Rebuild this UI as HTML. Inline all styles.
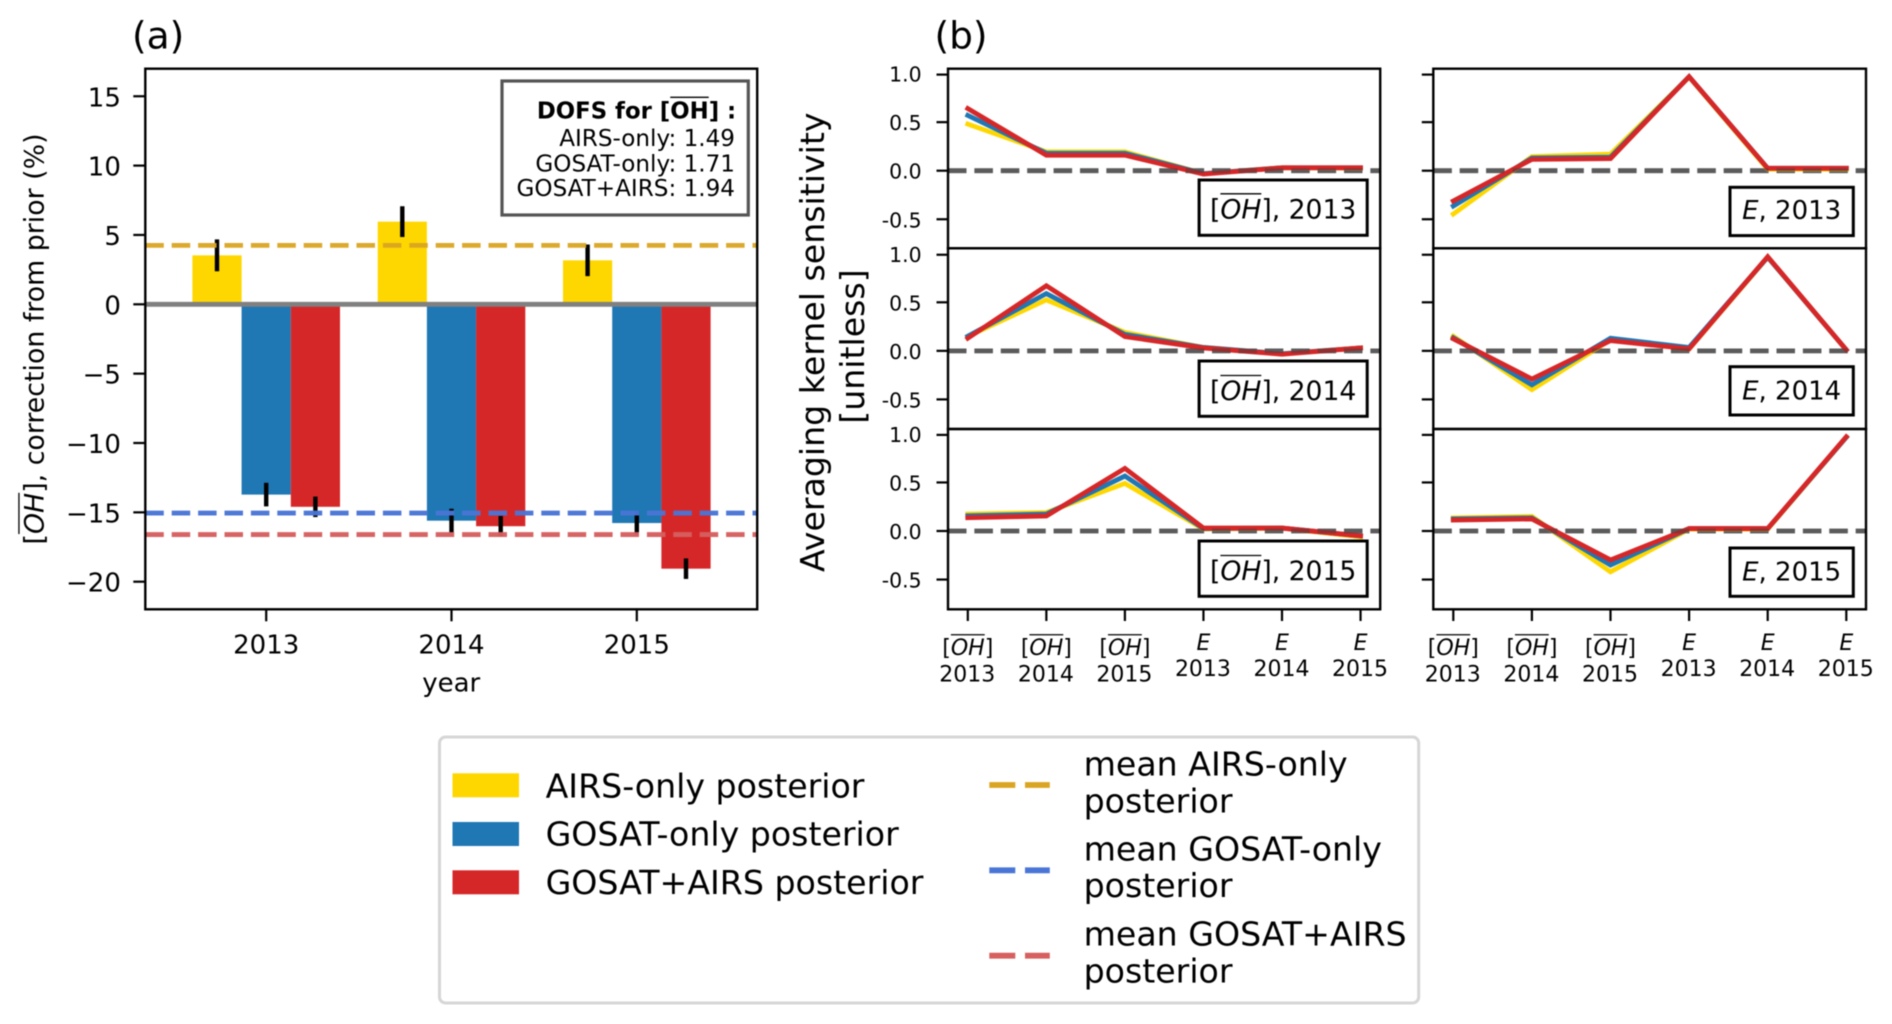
<!DOCTYPE html>
<html lang="en">
<head>
<meta charset="utf-8">
<title>OH correction and averaging kernel sensitivity</title>
<style>
  html, body { margin: 0; padding: 0; background: #fff; }
  #figure { display: block; width: 1892px; height: 1024px; filter: blur(0.6px);
            font-family: "DejaVu Sans", "Liberation Sans", sans-serif; }
  text { fill: #000; }
</style>
</head>
<body>
<svg id="figure" xmlns="http://www.w3.org/2000/svg" width="1892" height="1024" viewBox="0 0 1892 1024">
  <rect x="0" y="0" width="1892" height="1024" fill="#fff"/>

  <text x="132" y="48.5" font-size="37.5">(a)</text>
  <text x="934.5" y="48.5" font-size="37.5">(b)</text>

  <g id="chart-a"></g>
  <g id="chart-b"></g>

  <text x="451.2" y="691.5" font-size="26" text-anchor="middle">year</text>
  <g transform="rotate(-90 813 344)">
    <text x="814.8" y="344" dy="11" font-size="33.2" text-anchor="middle">Averaging kernel sensitivity</text>
    <text x="810.5" y="384" dy="11" font-size="33.2" text-anchor="middle">[unitless]</text>
  </g>

  <g>
    <rect x="502" y="81" width="246.3" height="134" fill="#fff" stroke="#555" stroke-width="3.2"/>
    <text id="dofs-anchor" x="735" y="146" font-size="23.1" text-anchor="end">AIRS-only: 1.49</text>
    <text x="735" y="171.5" font-size="23.1" text-anchor="end">GOSAT-only: 1.71</text>
    <text x="735" y="196" font-size="23.1" text-anchor="end">GOSAT+AIRS: 1.94</text>
  </g>

  <g>
    <rect x="439.5" y="737" width="979.2" height="266" rx="6" ry="6" fill="#fff" stroke="#d6d6d6" stroke-width="3"/>

    <rect x="452.5" y="773.3" width="66.5" height="24" fill="#ffd700"/>
    <text x="545.6" y="797.3" font-size="33.2">AIRS-only posterior</text>
    <rect x="452.5" y="822" width="66.5" height="24" fill="#1f77b4"/>
    <text x="545.6" y="845.6" font-size="33.2">GOSAT-only posterior</text>
    <rect x="452.5" y="870.3" width="66.5" height="24" fill="#d62728"/>
    <text x="545.6" y="893.9" font-size="33.2">GOSAT+AIRS posterior</text>

    <line x1="989.3" x2="1049.8" y1="785" y2="785" stroke="#daa520" stroke-width="5.8" stroke-dasharray="26 9.7"/>
    <text x="1083.6" y="775.6" font-size="33.2">mean AIRS-only</text>
    <text x="1083.6" y="812.3" font-size="33.2">posterior</text>

    <line x1="989.3" x2="1049.8" y1="870.3" y2="870.3" stroke="#4a75d6" stroke-width="5.8" stroke-dasharray="26 9.7"/>
    <text x="1083.6" y="860.6" font-size="33.2">mean GOSAT-only</text>
    <text x="1083.6" y="897" font-size="33.2">posterior</text>

    <line x1="989.3" x2="1049.8" y1="955.7" y2="955.7" stroke="#d65f5f" stroke-width="5.8" stroke-dasharray="26 9.7"/>
    <text x="1083.6" y="945.6" font-size="33.2">mean GOSAT+AIRS</text>
    <text x="1083.6" y="982.3" font-size="33.2">posterior</text>
  </g>
</svg>

<script>
// ---------- Panel (a) data ----------
const years = ['2013', '2014', '2015'];
const airsCorrection = [3.53, 5.96, 3.17];
const gosatCorrection = [-13.72, -15.6, -15.77];
const jointCorrection = [-14.6, -16.0, -19.06];
const airsError = [1.15, 1.11, 1.14];
const gosatError = [0.85, 0.86, 0.85];
const jointError = [0.74, 0.74, 0.74];
const meanAirs = 4.25;
const meanGosat = -15.05;
const meanJoint = -16.6;
const correctionTicks = [15, 10, 5, 0, -5, -10, -15, -20];

// ---------- Panel (b) data: rows are 2013, 2014, 2015 ----------
const kernelCategories = ['OH', 'OH', 'OH', 'E', 'E', 'E'];
const kernelCategoryYears = ['2013', '2014', '2015', '2013', '2014', '2015'];
const kernelTicks = [1.0, 0.5, 0.0, -0.5];
const kernelTickLabels = ['1.0', '0.5', '0.0', '-0.5'];

const ohAirs2013 = [0.48, 0.195, 0.195, -0.03, 0.03, 0.025];
const ohGosat2013 = [0.57, 0.18, 0.18, -0.03, 0.03, 0.03];
const ohJoint2013 = [0.64, 0.16, 0.16, -0.035, 0.03, 0.03];
const ohAirs2014 = [0.15, 0.525, 0.19, 0.035, -0.03, 0.03];
const ohGosat2014 = [0.15, 0.59, 0.17, 0.035, -0.03, 0.03];
const ohJoint2014 = [0.13, 0.67, 0.147, 0.03, -0.035, 0.03];
const ohAirs2015 = [0.175, 0.19, 0.49, 0.02, 0.03, -0.06];
const ohGosat2015 = [0.157, 0.175, 0.566, 0.025, 0.03, -0.05];
const ohJoint2015 = [0.137, 0.155, 0.645, 0.03, 0.03, -0.05];

const eAirs2013 = [-0.446, 0.145, 0.17, 0.965, 0.015, 0.015];
const eGosat2013 = [-0.364, 0.13, 0.14, 0.968, 0.025, 0.025];
const eJoint2013 = [-0.312, 0.117, 0.125, 0.968, 0.025, 0.025];
const eAirs2014 = [0.15, -0.40, 0.115, 0.02, 0.965, 0.01];
const eGosat2014 = [0.135, -0.35, 0.13, 0.035, 0.965, 0.01];
const eJoint2014 = [0.124, -0.29, 0.106, 0.02, 0.97, 0.01];
const eAirs2015 = [0.135, 0.15, -0.42, 0.02, 0.02, 0.965];
const eGosat2015 = [0.125, 0.135, -0.35, 0.025, 0.025, 0.965];
const eJoint2015 = [0.113, 0.124, -0.298, 0.025, 0.025, 0.97];

const ohSeries = [
  [ohAirs2013, ohGosat2013, ohJoint2013],
  [ohAirs2014, ohGosat2014, ohJoint2014],
  [ohAirs2015, ohGosat2015, ohJoint2015]
];
const eSeries = [
  [eAirs2013, eGosat2013, eJoint2013],
  [eAirs2014, eGosat2014, eJoint2014],
  [eAirs2015, eGosat2015, eJoint2015]
];

// ---------- Helpers ----------
const NS = 'http://www.w3.org/2000/svg';
function el(parent, tag, attrs) {
  const node = document.createElementNS(NS, tag);
  for (const k in attrs) node.setAttribute(k, attrs[k]);
  parent.appendChild(node);
  return node;
}
// Text of the form  prefix[OH]suffix  with an overline above the OH characters.
function mathLabel(parent, x, y, fs, anchor, prefix, suffix, bold) {
  const t = el(parent, 'text', { x: x, y: y, 'font-size': fs, 'text-anchor': anchor });
  if (bold) t.setAttribute('font-weight', 'bold');
  t.appendChild(document.createTextNode(prefix + '['));
  const oh = el(t, 'tspan', {});
  if (!bold) oh.setAttribute('font-style', 'italic');
  oh.textContent = 'OH';
  t.appendChild(document.createTextNode(']' + suffix));
  const i = prefix.length + 1;
  const x1 = t.getStartPositionOfChar(i).x;
  const x2 = t.getEndPositionOfChar(i + 1).x;
  const bar = el(parent, 'line', { x1: x1, x2: x2, y1: y - fs * 0.92, y2: y - fs * 0.92, stroke: '#000', 'stroke-width': 1.3 });
  
  
  return t;
}

// ---------- Panel (a) ----------
const chartA = document.getElementById('chart-a');
const A_LEFT = 145.3, A_RIGHT = 757.2, A_TOP = 68.7, A_BOTTOM = 609.3;
const BAR_W = 49.2;
function xA(i) { return 266.2 + 185.3 * i; }
function yA(v) { return 304.3 - 13.87 * v; }

const barGroups = [
  { key: 'airs', values: airsCorrection, errors: airsError, color: '#ffd700', offset: -BAR_W },
  { key: 'gosat', values: gosatCorrection, errors: gosatError, color: '#1f77b4', offset: 0 },
  { key: 'joint', values: jointCorrection, errors: jointError, color: '#d62728', offset: BAR_W }
];

barGroups.forEach(function (group) {
  group.values.forEach(function (v, i) {
    const top = Math.min(yA(v), yA(0));
    const bar = el(chartA, 'rect', {
      x: xA(i) + group.offset - BAR_W / 2, y: top, width: BAR_W,
      height: Math.abs(yA(v) - yA(0)), fill: group.color
    });
    
    
  });
});
barGroups.forEach(function (group) {
  group.values.forEach(function (v, i) {
    const cx = xA(i) + group.offset;
    const err = el(chartA, 'line', {
      x1: cx, x2: cx, y1: yA(v + group.errors[i]), y2: yA(v - group.errors[i]),
      stroke: '#000', 'stroke-width': 4.4
    });
    
    
  });
});

const zeroLineA = el(chartA, 'line', { x1: A_LEFT, x2: A_RIGHT, y1: yA(0), y2: yA(0), stroke: '#808080', 'stroke-width': 4.8 });



const meanAirsLine = el(chartA, 'line', { x1: A_LEFT, x2: A_RIGHT, y1: yA(meanAirs), y2: yA(meanAirs), stroke: '#daa520', 'stroke-width': 4.8, 'stroke-dasharray': '18.5 7.9', opacity: 0.95 });


const meanGosatLine = el(chartA, 'line', { x1: A_LEFT, x2: A_RIGHT, y1: yA(meanGosat), y2: yA(meanGosat), stroke: '#4a75d6', 'stroke-width': 4.8, 'stroke-dasharray': '18.5 7.9', opacity: 0.97 });


const meanJointLine = el(chartA, 'line', { x1: A_LEFT, x2: A_RIGHT, y1: yA(meanJoint), y2: yA(meanJoint), stroke: '#d65f5f', 'stroke-width': 4.8, 'stroke-dasharray': '18.5 7.9', opacity: 0.97 });



const frameA = el(chartA, 'rect', { x: A_LEFT, y: A_TOP, width: A_RIGHT - A_LEFT, height: A_BOTTOM - A_TOP, fill: 'none', stroke: '#000', 'stroke-width': 2.4 });



correctionTicks.forEach(function (v) {
  const tick = el(chartA, 'line', { x1: A_LEFT - 12, x2: A_LEFT, y1: yA(v), y2: yA(v), stroke: '#000', 'stroke-width': 2.2 });
  
  
  const label = el(chartA, 'text', { x: 120.9, y: yA(v) + 10, 'font-size': 26, 'text-anchor': 'end' });
  label.textContent = String(v).replace('-', '\u2212');
  
  
});
years.forEach(function (year, i) {
  const tick = el(chartA, 'line', { x1: xA(i), x2: xA(i), y1: A_BOTTOM, y2: A_BOTTOM + 12, stroke: '#000', 'stroke-width': 2.2 });
  
  
  const label = el(chartA, 'text', { x: xA(i), y: 653.6, 'font-size': 26, 'text-anchor': 'middle' });
  label.textContent = year;
  
  
});

const yTitleA = el(chartA, 'g', { transform: 'rotate(-90 43.6 339)' });


mathLabel(yTitleA, 43.6, 339, 26.8, 'middle', '', ', correction from prior (%)', false);

// DOFS heading
const dofsHeading = document.getElementById('dofs-anchor').parentNode;
const dofsTitle = mathLabel(dofsHeading, 736.2, 118.3, 22.8, 'end', 'DOFS for ', ' :', true);



// ---------- Panel (b) ----------
const chartB = document.getElementById('chart-b');
const PANEL_TOP = [68.7, 248.3, 429];
const PANEL_BOTTOM = [248.3, 429, 609.3];
const COL_LEFT = [948, 1433.3];
const COL_RIGHT = [1380.2, 1866];
function xB(col, i) { return col === 0 ? 967.8 + 78.55 * i : 1453.3 + 78.6 * i; }
function yB(row, v) { return 170.7 + 180.15 * row - 97.1 * v; }

const seriesColors = ['#ffd700', '#1f77b4', '#d62728'];
const seriesKeys = ['airs', 'gosat', 'joint'];
const labelBoxes = [
  { x: 1199.1, w: 168.1, y: [180, 361, 541], h: 55.3, baseline: [218.3, 400, 580] },
  { x: 1730, w: 123.3, y: [187.3, 366.7, 548], h: 48.3, baseline: [219, 399.5, 580.5] }
];

[ohSeries, eSeries].forEach(function (columnSeries, col) {
  const colKey = col === 0 ? 'oh' : 'e';
  columnSeries.forEach(function (rowSeries, row) {
    const panelYear = years[row];
    const left = COL_LEFT[col], right = COL_RIGHT[col];

    const under = el(chartB, 'line', { x1: left, x2: right, y1: yB(row, 0), y2: yB(row, 0), stroke: '#767676', 'stroke-width': 4.8, 'stroke-dasharray': '18.5 7.9' });
    
    

    rowSeries.forEach(function (values, s) {
      const pts = values.map(function (v, i) { return xB(col, i) + ',' + yB(row, v); }).join(' ');
      const line = el(chartB, 'polyline', { points: pts, fill: 'none', stroke: seriesColors[s], 'stroke-width': 4.8, 'stroke-linejoin': 'miter', 'stroke-linecap': 'square' });
      
      
    });

    const over = el(chartB, 'line', { x1: left, x2: right, y1: yB(row, 0), y2: yB(row, 0), stroke: 'rgba(60,60,60,0.45)', 'stroke-width': 4.8, 'stroke-dasharray': '18.5 7.9' });
    
    

    const frame = el(chartB, 'rect', { x: left, y: PANEL_TOP[row], width: right - left, height: PANEL_BOTTOM[row] - PANEL_TOP[row], fill: 'none', stroke: '#000', 'stroke-width': 2.4 });
    
    

    kernelTicks.forEach(function (v, k) {
      const tick = el(chartB, 'line', { x1: left - 11.5, x2: left, y1: yB(row, v) + (v === 1 ? 1 : 0), y2: yB(row, v) + (v === 1 ? 1 : 0), stroke: '#000', 'stroke-width': 2.2 });
      
      
      if (col === 0) {
        const label = el(chartB, 'text', { x: 921.6, y: yB(row, v) + 8, 'font-size': 20.4, 'text-anchor': 'end' });
        label.textContent = kernelTickLabels[k];
        
        
      }
    });

    const box = labelBoxes[col];
    const boxRect = el(chartB, 'rect', { x: box.x, y: box.y[row], width: box.w, height: box.h, fill: '#fff', stroke: '#000', 'stroke-width': 3 });
    
    
    if (col === 0) {
      const t = mathLabel(chartB, box.x + box.w / 2, box.baseline[row], 26.6, 'middle', '', ', ' + panelYear, false);
      
      
    } else {
      const t = el(chartB, 'text', { x: box.x + box.w / 2, y: box.baseline[row], 'font-size': 26, 'text-anchor': 'middle' });
      const e = el(t, 'tspan', { 'font-style': 'italic' });
      e.textContent = 'E';
      t.appendChild(document.createTextNode(', ' + panelYear));
      
      
    }
  });

  kernelCategories.forEach(function (cat, i) {
    const x = xB(col, i);
    const tick = el(chartB, 'line', { x1: x, x2: x, y1: 609.3, y2: 621, stroke: '#000', 'stroke-width': 2.2 });
    
    
    if (cat === 'OH') {
      const top = mathLabel(chartB, x, 655, 22, 'middle', '', '', false);
      
      
      const bottom = el(chartB, 'text', { x: x - 0.5, y: 681.7, 'font-size': 22, 'text-anchor': 'middle' });
      bottom.textContent = kernelCategoryYears[i];
      
      
    } else {
      const top = el(chartB, 'text', { x: x, y: 650, 'font-size': 22, 'font-style': 'italic', 'text-anchor': 'middle' });
      top.textContent = cat;
      
      
      const bottom = el(chartB, 'text', { x: x - 0.5, y: 676, 'font-size': 22, 'text-anchor': 'middle' });
      bottom.textContent = kernelCategoryYears[i];
      
      
    }
  });
});
</script>
</body>
</html>
